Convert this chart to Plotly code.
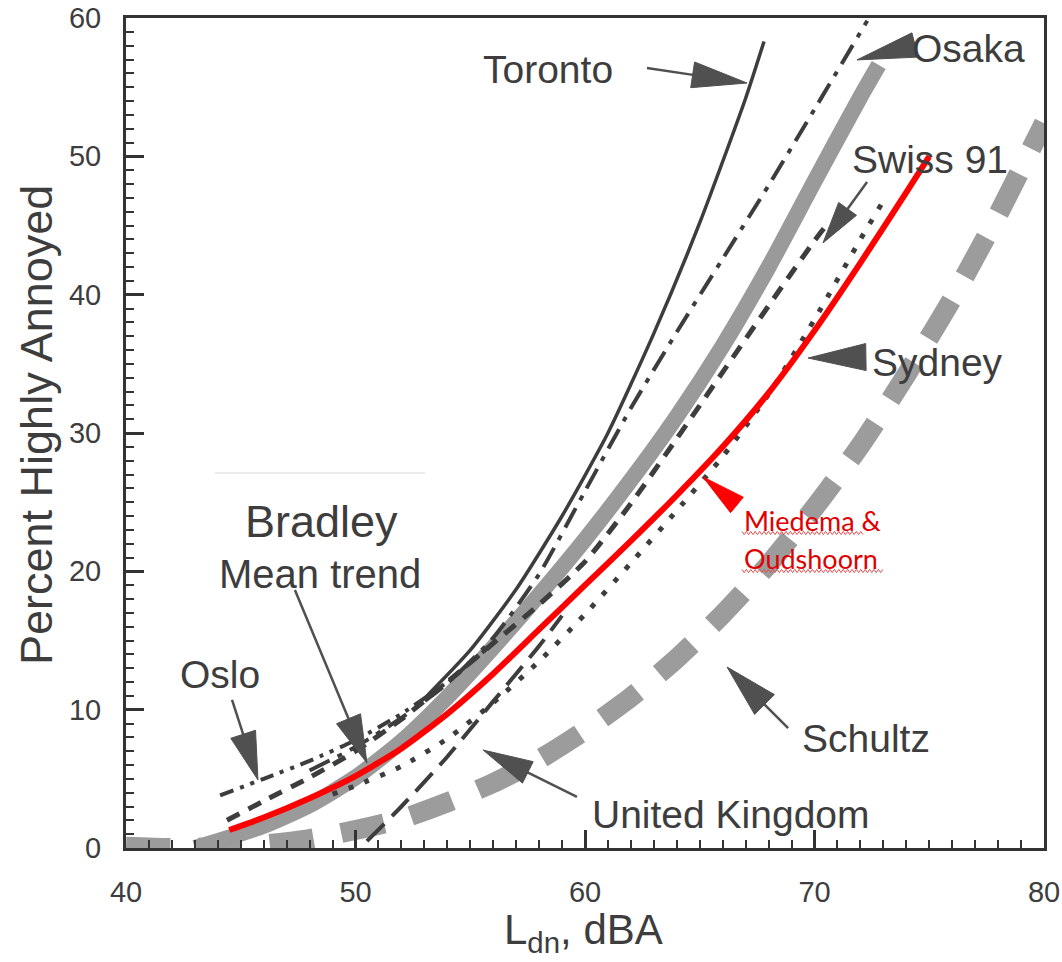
import math
import plotly.graph_objects as go

# ---------------- data ----------------
schultz_x = [40, 42, 44, 46, 48, 50, 52, 54, 56, 58, 60, 62, 64, 66, 68, 70, 72, 74, 76, 78, 80]
schultz_y = [0.1, 0.0, 0.05, 0.25, 0.65, 1.3, 2.1, 3.3, 4.7, 6.4, 8.5, 10.9, 13.7, 16.9, 20.5, 24.6, 29.1, 34.2, 39.7, 45.8, 52.4]

bradley_x = [43, 44, 46, 48, 50, 52, 54, 56, 58, 60, 62, 64, 66, 68, 70, 72, 72.8]
bradley_y = [0.0, 0.5, 1.6, 3.1, 5.1, 7.7, 10.9, 14.5, 18.3, 22.3, 26.6, 31.2, 36.3, 42.0, 48.2, 54.3, 56.6]

toronto_x = [53, 55, 57, 59, 61, 63, 65, 67, 67.8]
toronto_y = [10.8, 14.3, 18.7, 24.0, 30.0, 37.2, 45.2, 54.2, 58.3]

osaka_x = [48, 50, 52, 54, 56, 58, 60, 62, 64, 66, 68, 70, 72.3]
osaka_y = [5.6, 7.3, 9.4, 11.9, 15.2, 19.8, 25.8, 31.8, 37.3, 42.6, 47.9, 53.4, 59.8]

oslo_x = [44.1, 46, 48, 50, 52, 54, 56]
oslo_y = [3.8, 5.0, 6.3, 7.8, 9.7, 12.0, 14.8]

swiss_x = [44.4, 46, 48, 50, 52, 54, 56, 58, 60, 62, 64, 66, 68, 70, 70.6]
swiss_y = [2.0, 3.4, 5.1, 7.0, 9.3, 12.0, 14.8, 17.6, 20.7, 24.9, 29.6, 34.4, 39.2, 43.9, 45.2]

uk_x = [50.5, 52, 54, 56, 58, 59]
uk_y = [0.5, 3.0, 6.6, 10.6, 14.6, 16.8]

sydney_x = [49, 50, 52, 54, 56, 58, 60, 62, 64, 66, 68, 70, 72, 72.9]
sydney_y = [3.9, 4.5, 5.9, 7.9, 10.5, 13.5, 16.9, 20.6, 24.4, 28.3, 32.8, 38.2, 44.0, 46.5]

miedema_x = [44.5, 46, 48, 50, 52, 54, 56, 58, 60, 62, 64, 66, 68, 70, 72, 74, 75]
miedema_y = [1.3, 2.2, 3.6, 5.2, 7.2, 9.7, 12.6, 15.8, 19.0, 22.2, 25.5, 29.0, 32.9, 37.4, 42.3, 47.4, 50.0]

x_ticks = [40, 50, 60, 70, 80]
y_ticks = [0, 10, 20, 30, 40, 50, 60]

# ---------------- layout geometry ----------------
W, H = 1062, 962
ML, MR, MT, MB = 126, 18, 18, 114
PW, PH = W - ML - MR, H - MT - MB
X0, X1, Y0, Y1 = 40, 80, 0, 60

def to_px(x, y):
    return ML + (x - X0) / (X1 - X0) * PW, MT + (Y1 - y) / (Y1 - Y0) * PH

def to_data(px, py):
    return X0 + (px - ML) / PW * (X1 - X0), Y1 - (py - MT) / PH * (Y1 - Y0)

INK = "#3d3d3d"
FONT = "Liberation Sans, Arial, Helvetica, sans-serif"

fig = go.Figure()

def line(x, y, color, width, dash="solid"):
    fig.add_trace(go.Scatter(x=x, y=y, mode="lines", showlegend=False,
                             line=dict(color=color, width=width, dash=dash,
                                       shape="spline", smoothing=0.6),
                             hoverinfo="skip"))

line(schultz_x, schultz_y, "#9c9c9c", 20, "44px,28px")
line(bradley_x, bradley_y, "#9a9a9a", 16)
line(uk_x, uk_y, INK, 4, "24px,11px")
line(sydney_x, sydney_y, INK, 5, "5px,12px")
line(swiss_x, swiss_y, INK, 5, "14px,10px")
line(oslo_x, oslo_y, INK, 4, "14px,7px,4px,7px,4px,7px")
line(osaka_x, osaka_y, INK, 4, "22px,9px,5px,9px")
line(toronto_x, toronto_y, INK, 3.5)
line(miedema_x, miedema_y, "#ff0000", 6)

shapes = []

def arrow(tail, tip, hl, hw, color="#505050", shaft=2.5):
    tx, ty = to_px(*tail)
    px, py = to_px(*tip)
    dx, dy = px - tx, py - ty
    L = math.hypot(dx, dy)
    ux, uy = dx / L, dy / L
    hl = min(hl, L)
    bx, by = px - ux * hl, py - uy * hl
    nx, ny = -uy, ux
    pts = [(px, py), (bx + nx * hw, by + ny * hw), (bx - nx * hw, by - ny * hw)]
    d = [to_data(a, b) for a, b in pts]
    path = "M{:.4f},{:.4f} L{:.4f},{:.4f} L{:.4f},{:.4f} Z".format(
        d[0][0], d[0][1], d[1][0], d[1][1], d[2][0], d[2][1])
    shapes.append(dict(type="path", path=path, xref="x", yref="y",
                       fillcolor=color, line=dict(color=color, width=1)))
    if L - hl > 2:
        b = to_data(bx + ux * 2, by + uy * 2)
        shapes.append(dict(type="line", xref="x", yref="y", x0=tail[0], y0=tail[1],
                           x1=b[0], y1=b[1], line=dict(color=color, width=shaft)))

# annotation arrows (tail, tip in data units)
arrow((62.70, 56.39), (67.06, 55.30), 55, 13)     # Toronto
arrow((74.38, 58.05), (71.85, 56.97), 60, 12.5)   # Osaka
arrow((72.29, 48.15), (70.37, 43.74), 42, 11)     # Swiss 91
arrow((72.24, 35.49), (69.72, 35.42), 60, 13.5)   # Sydney
arrow((66.62, 24.80), (65.14, 26.82), 60, 10, color="#ff0000")  # Miedema
arrow((68.85, 8.67), (66.19, 13.08), 53, 14)      # Schultz
arrow((59.65, 3.69), (55.56, 7.08), 50, 12)       # United Kingdom
arrow((47.36, 18.65), (50.50, 6.14), 48, 13)      # Bradley
arrow((44.62, 10.70), (45.75, 4.92), 48, 13)      # Oslo

# faint scan line above "Bradley"
fa, fb = to_data(215, 473), to_data(425, 473)
shapes.append(dict(type="line", xref="x", yref="y", x0=fa[0], y0=fa[1], x1=fb[0], y1=fb[1],
                   line=dict(color="#e4e4e4", width=1.5)))

# red squiggle underlines
def squiggle(px0, px1, py):
    pts = []
    x = px0
    k = 0
    while x <= px1:
        pts.append(to_data(x, py + (1.6 if k % 2 else -1.6)))
        x += 2.2
        k += 1
    path = "M" + " L".join("{:.4f},{:.4f}".format(a, b) for a, b in pts)
    shapes.append(dict(type="path", path=path, xref="x", yref="y",
                       line=dict(color="#e05050", width=1)))

squiggle(742, 865, 533)
squiggle(742, 884, 571)

ann = []

def label(text, x, y, size=39, color=INK, xanchor="center", family=FONT):
    ann.append(dict(text=text, x=x, y=y, xref="x", yref="y", showarrow=False,
                    xanchor=xanchor, yanchor="middle",
                    font=dict(family=family, size=size, color=color)))

label("Toronto", 58.39, 56.30)
label("Osaka", 76.69, 57.80)
label("Swiss 91", 75.03, 49.75)
label("Sydney", 75.34, 35.10)
label("Schultz", 72.24, 7.90)
label("United Kingdom", 66.36, 2.40)
label("Bradley", 48.54, 23.60, size=45)
label("Mean trend", 48.45, 19.80, size=40)
label("Oslo", 44.10, 12.55)
label("Miedema &", 66.84, 23.70, size=27, color="#e00000", xanchor="left",
      family="Lato, Noto Sans, sans-serif")
label("Oudshoorn", 66.84, 20.95, size=27, color="#e00000", xanchor="left",
      family="Lato, Noto Sans, sans-serif")

# axis titles
ann.append(dict(text="Percent Highly Annoyed", xref="paper", yref="paper",
                x=(36 - ML) / PW, y=(MT + PH - 425) / PH, showarrow=False,
                textangle=-90, xanchor="center", yanchor="middle",
                font=dict(family=FONT, size=45, color=INK)))
ann.append(dict(text="L<sub>dn</sub>, dBA", xref="paper", yref="paper",
                x=(583 - ML) / PW, y=(MT + PH - 932) / PH, showarrow=False,
                xanchor="center", yanchor="middle",
                font=dict(family=FONT, size=42, color=INK)))

axis_common = dict(showgrid=False, zeroline=False, showline=True, linecolor="#333333",
                   linewidth=3, mirror=True, ticks="inside", ticklen=18, tickwidth=2.5,
                   tickcolor="#333333", tickfont=dict(family=FONT, size=29, color=INK),
                   ticklabelstandoff=16, automargin=False)

fig.update_layout(
    width=W, height=H,
    margin=dict(l=ML, r=MR, t=MT, b=MB, autoexpand=False),
    paper_bgcolor="white", plot_bgcolor="white",
    showlegend=False,
    xaxis=dict(range=[X0, X1], tickvals=x_ticks, ticktext=[str(v) for v in x_ticks],
               minor=dict(dtick=1, ticklen=8, tickwidth=2, ticks="inside", tickcolor="#333333"),
               **axis_common),
    yaxis=dict(range=[Y0, Y1], tickvals=y_ticks, ticktext=[str(v) for v in y_ticks],
               minor=dict(dtick=1, ticklen=8, tickwidth=2, ticks="inside", tickcolor="#333333"),
               **axis_common),
    shapes=shapes,
    annotations=ann,
)

fig.write_html("out.html",
               config={"displayModeBar": False},
               post_script="document.body.style.margin='0px';document.body.style.overflow='hidden';")
